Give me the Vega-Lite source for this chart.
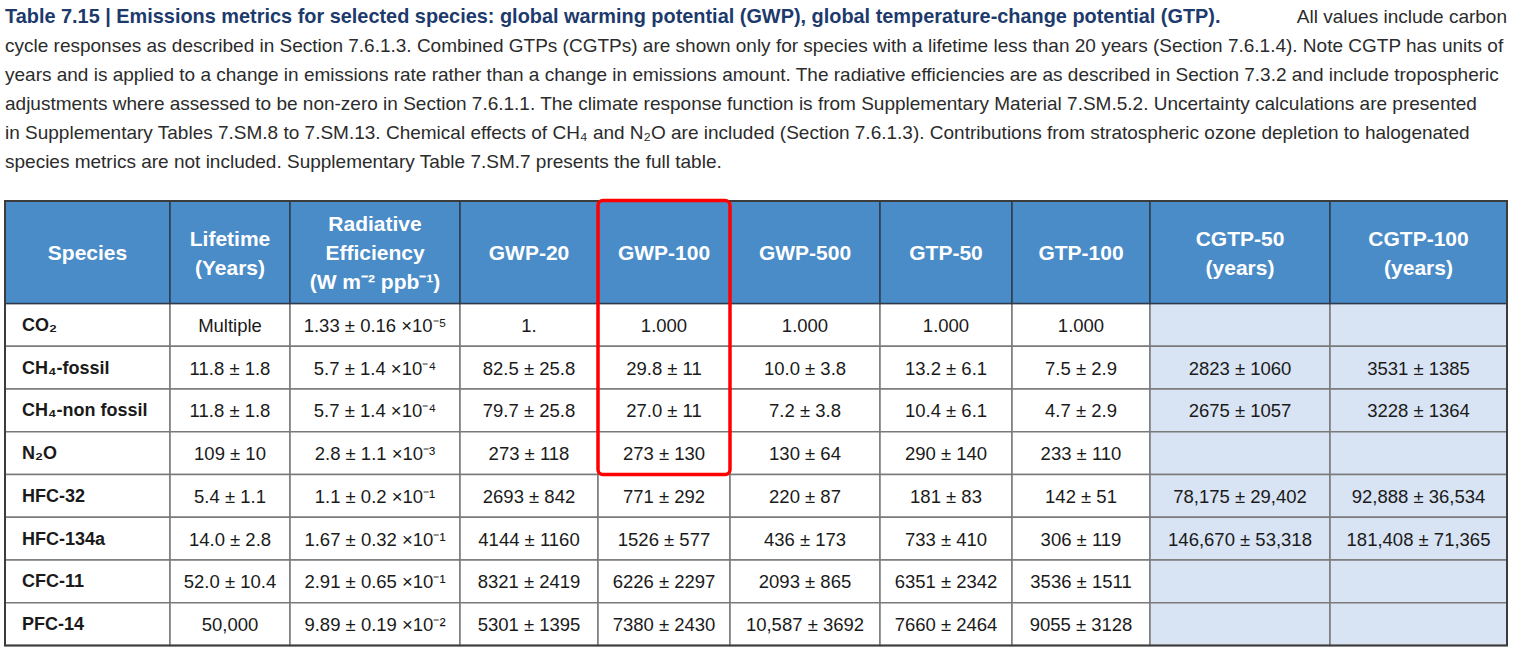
{
"$schema": "https://vega.github.io/schema/vega-lite/v6.json",
"width": 1516, "height": 659,
"autosize": {"type": "fit", "contains": "padding"},
"padding": 0,
"background": "white",
"config": {"view": {"stroke": null}},
"datasets": {
"columns": [
{"name": "Species", "head": ["Species"]},
{"name": "Lifetime", "head": ["Lifetime", "(Years)"]},
{"name": "RE", "head": ["Radiative", "Efficiency", "(W m⁻² ppb⁻¹)"]},
{"name": "GWP20", "head": ["GWP-20"]},
{"name": "GWP100", "head": ["GWP-100"]},
{"name": "GWP500", "head": ["GWP-500"]},
{"name": "GTP50", "head": ["GTP-50"]},
{"name": "GTP100", "head": ["GTP-100"]},
{"name": "CGTP50", "head": ["CGTP-50", "(years)"]},
{"name": "CGTP100", "head": ["CGTP-100", "(years)"]}
],
"rows": [
{"Species": "CO₂", "Lifetime": "Multiple", "RE": "1.33 ± 0.16 ×10⁻⁵", "GWP20": "1.", "GWP100": "1.000", "GWP500": "1.000", "GTP50": "1.000", "GTP100": "1.000", "CGTP50": "", "CGTP100": ""},
{"Species": "CH₄-fossil", "Lifetime": "11.8 ± 1.8", "RE": "5.7 ± 1.4 ×10⁻⁴", "GWP20": "82.5 ± 25.8", "GWP100": "29.8 ± 11", "GWP500": "10.0 ± 3.8", "GTP50": "13.2 ± 6.1", "GTP100": "7.5 ± 2.9", "CGTP50": "2823 ± 1060", "CGTP100": "3531 ± 1385"},
{"Species": "CH₄-non fossil", "Lifetime": "11.8 ± 1.8", "RE": "5.7 ± 1.4 ×10⁻⁴", "GWP20": "79.7 ± 25.8", "GWP100": "27.0 ± 11", "GWP500": "7.2 ± 3.8", "GTP50": "10.4 ± 6.1", "GTP100": "4.7 ± 2.9", "CGTP50": "2675 ± 1057", "CGTP100": "3228 ± 1364"},
{"Species": "N₂O", "Lifetime": "109 ± 10", "RE": "2.8 ± 1.1 ×10⁻³", "GWP20": "273 ± 118", "GWP100": "273 ± 130", "GWP500": "130 ± 64", "GTP50": "290 ± 140", "GTP100": "233 ± 110", "CGTP50": "", "CGTP100": ""},
{"Species": "HFC-32", "Lifetime": "5.4 ± 1.1", "RE": "1.1 ± 0.2 ×10⁻¹", "GWP20": "2693 ± 842", "GWP100": "771 ± 292", "GWP500": "220 ± 87", "GTP50": "181 ± 83", "GTP100": "142 ± 51", "CGTP50": "78,175 ± 29,402", "CGTP100": "92,888 ± 36,534"},
{"Species": "HFC-134a", "Lifetime": "14.0 ± 2.8", "RE": "1.67 ± 0.32 ×10⁻¹", "GWP20": "4144 ± 1160", "GWP100": "1526 ± 577", "GWP500": "436 ± 173", "GTP50": "733 ± 410", "GTP100": "306 ± 119", "CGTP50": "146,670 ± 53,318", "CGTP100": "181,408 ± 71,365"},
{"Species": "CFC-11", "Lifetime": "52.0 ± 10.4", "RE": "2.91 ± 0.65 ×10⁻¹", "GWP20": "8321 ± 2419", "GWP100": "6226 ± 2297", "GWP500": "2093 ± 865", "GTP50": "6351 ± 2342", "GTP100": "3536 ± 1511", "CGTP50": "", "CGTP100": ""},
{"Species": "PFC-14", "Lifetime": "50,000", "RE": "9.89 ± 0.19 ×10⁻²", "GWP20": "5301 ± 1395", "GWP100": "7380 ± 2430", "GWP500": "10,587 ± 3692", "GTP50": "7660 ± 2464", "GTP100": "9055 ± 3128", "CGTP50": "", "CGTP100": ""}
],
"notes": [
{"line": 0, "style": "bold", "text": "Table 7.15 | Emissions metrics for selected species: global warming potential (GWP), global temperature-change potential (GTP)."},
{"line": 0, "style": "right", "text": "All values include carbon"},
{"line": 1, "style": "plain", "text": "cycle responses as described in Section 7.6.1.3. Combined GTPs (CGTPs) are shown only for species with a lifetime less than 20 years (Section 7.6.1.4). Note CGTP has units of"},
{"line": 2, "style": "plain", "text": "years and is applied to a change in emissions rate rather than a change in emissions amount. The radiative efficiencies are as described in Section 7.3.2 and include tropospheric"},
{"line": 3, "style": "plain", "text": "adjustments where assessed to be non-zero in Section 7.6.1.1. The climate response function is from Supplementary Material 7.SM.5.2. Uncertainty calculations are presented"},
{"line": 4, "style": "plain", "text": "in Supplementary Tables 7.SM.8 to 7.SM.13. Chemical effects of CH₄ and N₂O are included (Section 7.6.1.3). Contributions from stratospheric ozone depletion to halogenated"},
{"line": 5, "style": "plain", "text": "species metrics are not included. Supplementary Table 7.SM.7 presents the full table."}
]
},
"layer": [
{
"data": {"name": "rows"},
"transform": [
{"window": [{"op": "row_number", "as": "r"}]},
{"fold": ["Species", "Lifetime", "RE", "GWP20", "GWP100", "GWP500", "GTP50", "GTP100", "CGTP50", "CGTP100"], "as": ["key", "value"]},
{"calculate": "indexof(['Species','Lifetime','RE','GWP20','GWP100','GWP500','GTP50','GTP100','CGTP50','CGTP100'], datum.key)", "as": "c"},
{"calculate": "datum.c + 1", "as": "c1"},
{"calculate": "datum.c + 0.5", "as": "cm"},
{"calculate": "datum.r + 1", "as": "r1"},
{"calculate": "datum.r + 0.5", "as": "rm"}
],
"layer": [
{
"mark": {"type": "rect", "stroke": "#7a7a7a", "strokeWidth": 1.5},
"encoding": {
"x": {"field": "c", "type": "quantitative", "axis": null, "scale": {"type": "linear", "domain": [0,1,2,3,4,5,6,7,8,9,10], "range": [5,170,290,460,598,730,880,1012,1150,1330,1507], "zero": false, "nice": false}},
"x2": {"field": "c1"},
"y": {"field": "r", "type": "quantitative", "axis": null, "scale": {"type": "linear", "domain": [-7,-1,0,1,9], "range": [2.5,176.5,201,303.5,645.5], "zero": false, "nice": false}},
"y2": {"field": "r1"},
"fill": {"condition": {"test": "datum.c >= 8", "value": "#d8e3f3"}, "value": "#ffffff"}
}
},
{
"transform": [{"filter": "datum.c == 0"}],
"mark": {"type": "text", "align": "left", "baseline": "middle", "dx": 17, "dy": 1, "font": "Liberation Sans", "fontSize": 18, "fontWeight": "bold", "color": "#1a1a1a"},
"encoding": {
"x": {"field": "c", "type": "quantitative"},
"y": {"field": "rm", "type": "quantitative"},
"text": {"field": "value", "type": "nominal"}
}
},
{
"transform": [{"filter": "datum.c > 0"}],
"mark": {"type": "text", "align": "center", "baseline": "middle", "dy": 1, "font": "Liberation Sans", "fontSize": 18.5, "color": "#1a1a1a"},
"encoding": {
"x": {"field": "cm", "type": "quantitative"},
"y": {"field": "rm", "type": "quantitative"},
"text": {"field": "value", "type": "nominal"}
}
}
]
},
{
"data": {"name": "columns"},
"transform": [
{"window": [{"op": "row_number", "as": "n"}]},
{"calculate": "datum.n - 1", "as": "c"},
{"calculate": "datum.n - 0.5", "as": "cm"},
{"calculate": "length(datum.head)", "as": "lines"}
],
"layer": [
{
"mark": {"type": "rect", "fill": "#4a8cc8", "stroke": "#2f3b4c", "strokeWidth": 1.5},
"encoding": {
"x": {"field": "c", "type": "quantitative"},
"x2": {"field": "n"},
"y": {"datum": 0, "type": "quantitative"},
"y2": {"datum": 1}
}
},
{
"transform": [{"filter": "datum.lines == 1"}],
"mark": {"type": "text", "align": "center", "baseline": "middle", "dy": 1.5, "font": "Liberation Sans", "fontSize": 21, "fontWeight": "bold", "color": "#ffffff", "lineHeight": 29},
"encoding": {
"x": {"field": "cm", "type": "quantitative"},
"y": {"datum": 0.5, "type": "quantitative"},
"text": {"field": "head", "type": "nominal"}
}
},
{
"transform": [{"filter": "datum.lines == 2"}],
"mark": {"type": "text", "align": "center", "baseline": "middle", "dy": -12.5, "font": "Liberation Sans", "fontSize": 21, "fontWeight": "bold", "color": "#ffffff", "lineHeight": 29},
"encoding": {
"x": {"field": "cm", "type": "quantitative"},
"y": {"datum": 0.5, "type": "quantitative"},
"text": {"field": "head", "type": "nominal"}
}
},
{
"transform": [{"filter": "datum.lines == 3"}],
"mark": {"type": "text", "align": "center", "baseline": "middle", "dy": -27, "font": "Liberation Sans", "fontSize": 21, "fontWeight": "bold", "color": "#ffffff", "lineHeight": 29},
"encoding": {
"x": {"field": "cm", "type": "quantitative"},
"y": {"datum": 0.5, "type": "quantitative"},
"text": {"field": "head", "type": "nominal"}
}
}
]
},
{
"data": {"values": [{}]},
"layer": [
{
"mark": {"type": "rect", "fill": "transparent", "stroke": "#3c3c3c", "strokeWidth": 2},
"encoding": {
"x": {"datum": 0, "type": "quantitative"},
"x2": {"datum": 10},
"y": {"datum": 0, "type": "quantitative"},
"y2": {"datum": 9}
}
},
{
"mark": {"type": "rect", "fill": "transparent", "stroke": "#ff0000", "strokeWidth": 3.5, "cornerRadius": 5},
"encoding": {
"x": {"datum": 4, "type": "quantitative"},
"x2": {"datum": 5},
"y": {"datum": -0.02, "type": "quantitative"},
"y2": {"datum": 5}
}
}
]
},
{
"data": {"name": "notes"},
"transform": [{"calculate": "datum.line - 6.5", "as": "ly"}],
"layer": [
{
"transform": [{"filter": "datum.style == 'bold'"}],
"mark": {"type": "text", "align": "left", "baseline": "middle", "font": "Liberation Sans", "fontSize": 19.9, "fontWeight": "bold", "color": "#1d3a6c"},
"encoding": {
"x": {"datum": 0, "type": "quantitative"},
"y": {"field": "ly", "type": "quantitative"},
"text": {"field": "text", "type": "nominal"}
}
},
{
"transform": [{"filter": "datum.style == 'right'"}],
"mark": {"type": "text", "align": "right", "baseline": "middle", "font": "Liberation Sans", "fontSize": 19, "color": "#2b2b2b"},
"encoding": {
"x": {"datum": 10, "type": "quantitative"},
"y": {"field": "ly", "type": "quantitative"},
"text": {"field": "text", "type": "nominal"}
}
},
{
"transform": [{"filter": "datum.style == 'plain'"}],
"mark": {"type": "text", "align": "left", "baseline": "middle", "font": "Liberation Sans", "fontSize": 19, "color": "#2b2b2b"},
"encoding": {
"x": {"datum": 0, "type": "quantitative"},
"y": {"field": "ly", "type": "quantitative"},
"text": {"field": "text", "type": "nominal"}
}
}
]
}
]
}
